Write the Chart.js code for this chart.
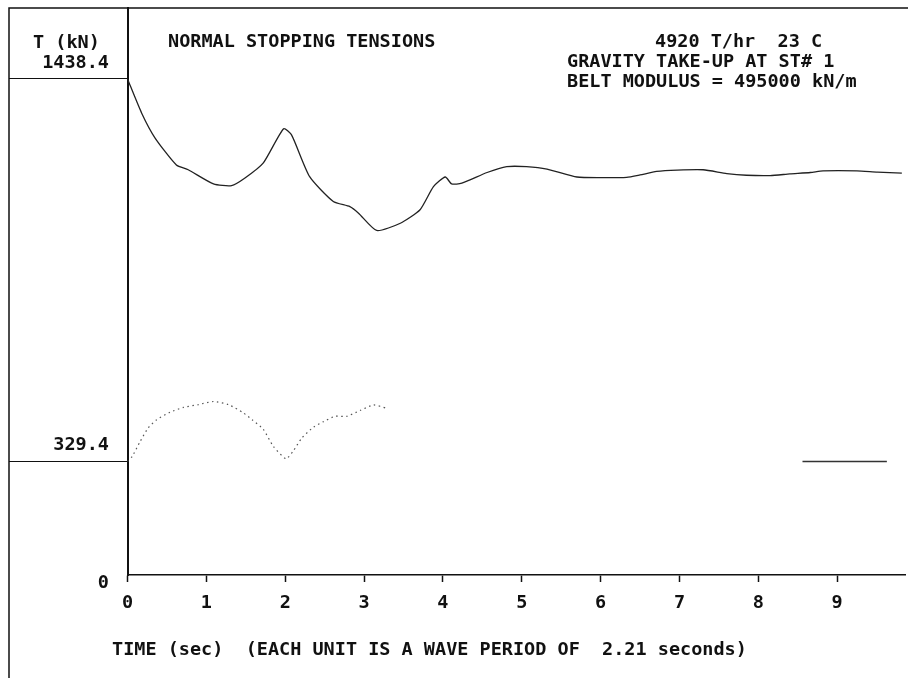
<!DOCTYPE html>
<html>
<head>
<meta charset="utf-8">
<script src="https://cdn.jsdelivr.net/npm/chart.js@4.4.1/dist/chart.umd.min.js"></script>
<style>
  body { margin: 0; background: #fff; }
  canvas { display: block; }
</style>
</head>
<body>
<canvas id="tensionChart" width="908" height="678"></canvas>
<script>
  // time in wave periods, tension in kN
  const timeUpper = [0, 0.18, 0.35, 0.62, 0.77, 1.09, 1.32, 1.49, 1.72, 1.98, 2.08, 2.31, 2.61, 2.82, 2.93, 3.16, 3.46, 3.71, 3.88, 4.03, 4.11, 4.24, 4.56, 4.81, 5.06, 5.32, 5.70, 5.99, 6.33, 6.50, 6.71, 6.97, 7.30, 7.60, 7.85, 8.15, 8.40, 8.66, 8.82, 9.25, 9.51, 9.82];
  const tensionUpper = [1438.4, 1339, 1267, 1189, 1175, 1134, 1129, 1151, 1194, 1294, 1276, 1155, 1083, 1068, 1049, 999, 1020, 1059, 1126, 1154, 1134, 1136, 1167, 1184, 1184, 1177, 1154, 1152, 1153, 1160, 1170, 1174, 1175, 1164, 1159, 1158, 1163, 1167, 1172, 1172, 1168, 1165];

  const timeLower = [0, 0.06, 0.16, 0.26, 0.37, 0.54, 0.71, 0.90, 1.09, 1.28, 1.47, 1.58, 1.72, 1.85, 2.01, 2.10, 2.21, 2.36, 2.48, 2.63, 2.78, 2.95, 3.12, 3.28];
  const tensionLower = [329.4, 344, 387, 426, 450, 472, 486, 494, 503, 494, 470, 450, 423, 373, 337, 359, 397, 429, 444, 460, 460, 477, 493, 484];

  const markerTime = [8.56, 9.63];
  const markerTension = [329.4, 329.4];

  const xTickValues = [0, 1, 2, 3, 4, 5, 6, 7, 8, 9];
  const yTickValues = [0, 329.4, 1438.4];

  const FONT = '"DejaVu Sans Mono", "Liberation Mono", monospace';
  Chart.defaults.color = '#111';
  Chart.defaults.font.family = FONT;

  const toPoints = (xs, ys) => xs.map((x, i) => ({ x: x, y: ys[i] }));

  // frame + header texts
  const decorations = {
    id: 'decorations',
    afterDraw(chart) {
      const ctx = chart.ctx;
      ctx.save();
      ctx.strokeStyle = '#111';
      ctx.lineWidth = 1.5;
      ctx.beginPath();
      ctx.moveTo(9, 678);
      ctx.lineTo(9, 8);
      ctx.lineTo(908, 8);
      ctx.stroke();

      ctx.fillStyle = '#111';
      ctx.font = 'bold 18.5px ' + FONT;
      ctx.textBaseline = 'middle';
      ctx.textAlign = 'left';
      ctx.fillText('T (kN)', 33, 43);
      ctx.fillText('NORMAL STOPPING TENSIONS', 168, 42);
      ctx.fillText('4920 T/hr  23 C', 655, 42);
      ctx.fillText('GRAVITY TAKE-UP AT ST# 1', 567, 62);
      ctx.fillText('BELT MODULUS = 495000 kN/m', 567, 82);
      ctx.fillText('TIME (sec)  (EACH UNIT IS A WAVE PERIOD OF  2.21 seconds)', 112, 650);
      ctx.restore();
    }
  };

  new Chart(document.getElementById('tensionChart'), {
    type: 'line',
    data: {
      datasets: [{
        data: toPoints(timeUpper, tensionUpper),
        borderColor: '#222',
        borderWidth: 1.3,
        pointRadius: 0,
        tension: 0.2
      }, {
        data: toPoints(timeLower, tensionLower),
        borderColor: '#555',
        borderWidth: 1.2,
        borderDash: [1.5, 3.5],
        pointRadius: 0,
        tension: 0.2
      }, {
        data: toPoints(markerTime, markerTension),
        borderColor: '#333',
        borderWidth: 1.5,
        pointRadius: 0
      }]
    },
    options: {
      responsive: false,
      animation: false,
      layout: { padding: { left: 9, top: 8, right: 3, bottom: 0 } },
      plugins: { legend: { display: false }, tooltip: { enabled: false } },
      scales: {
        x: {
          type: 'linear',
          min: 0,
          max: 9.86,
          afterBuildTicks: (scale) => { scale.ticks = xTickValues.map(v => ({ value: v })); },
          afterFit: (scale) => { scale.height = 103; },
          border: { color: '#111', width: 1.6 },
          grid: { drawOnChartArea: false, tickLength: 7, tickColor: '#111', tickWidth: 1.5 },
          ticks: { padding: 10, font: { size: 18.5, weight: 'bold' }, color: '#111' }
        },
        y: {
          type: 'linear',
          min: 0,
          max: 1644,
          afterBuildTicks: (scale) => { scale.ticks = yTickValues.map(v => ({ value: v })); },
          afterFit: (scale) => { scale.width = 118.5; },
          border: { color: '#111', width: 2 },
          grid: {
            drawOnChartArea: false,
            tickLength: 118.5,
            tickWidth: 1.2,
            tickColor: (c) => (c.tick && c.tick.value === 0) ? 'rgba(0,0,0,0)' : '#111'
          },
          ticks: {
            padding: -100,
            font: { size: 18.5, weight: 'bold', lineHeight: 0.85 },
            color: '#111',
            // empty lines push the label above (or below, for 0) its tick line
            callback: (v) => v === 0 ? ['', '0'] : [v.toFixed(1), '', '']
          }
        }
      }
    },
    plugins: [decorations]
  });
</script>
</body>
</html>
